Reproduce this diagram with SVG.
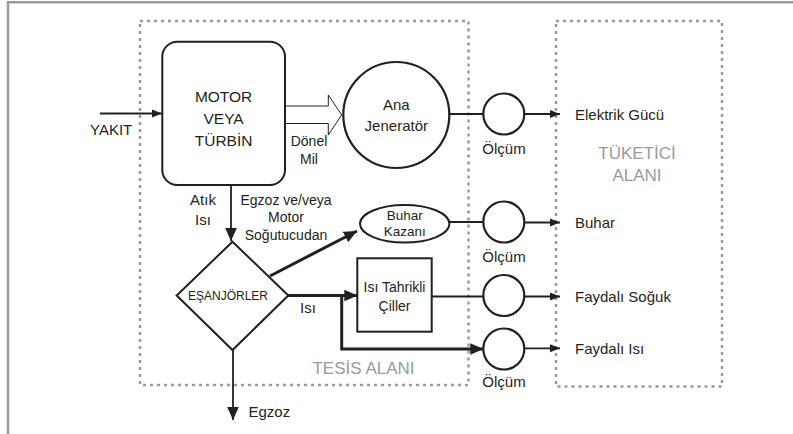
<svg xmlns="http://www.w3.org/2000/svg" width="793" height="434" viewBox="0 0 793 434">
<style>
  text { font-family: "Liberation Sans", Arial, sans-serif; fill: #231f20; }
  .t15 { font-size: 15px; }
  .t14 { font-size: 14px; }
  .t13 { font-size: 13.5px; }
  .gray { font-size: 17px; fill: #9a9a9a; }
  .shape { fill: #fff; stroke: #231f20; stroke-width: 2; }
  .circ { fill: #fff; stroke: #231f20; stroke-width: 2.2; }
  .area { fill: none; stroke: #9a9a9a; stroke-width: 2.5; stroke-dasharray: 3 4; }
  .ln { fill: none; stroke: #231f20; stroke-width: 1.8; }
  .lnt { fill: none; stroke: #231f20; stroke-width: 3; }
</style>
<defs>
  <marker id="ah" viewBox="0 0 10 10" refX="10" refY="5" markerWidth="10" markerHeight="10" markerUnits="userSpaceOnUse" orient="auto">
    <path d="M0,1 L10,5 L0,9 Z" fill="#231f20"/>
  </marker>
  <marker id="ahb" viewBox="0 0 10 10" refX="10" refY="5" markerWidth="13" markerHeight="13" markerUnits="userSpaceOnUse" orient="auto">
    <path d="M0,0.5 L10,5 L0,9.5 Z" fill="#231f20"/>
  </marker>
</defs>
<rect x="0" y="0" width="793" height="434" fill="#fff"/>
<path d="M8,434 V2.2 H793" fill="none" stroke="#9a9a9a" stroke-width="2.5"/>

<g id="plant-area">
  <rect class="area" x="140" y="21" width="328.5" height="364"/>
  <text class="gray" x="363.5" y="374" text-anchor="middle">TESİS ALANI</text>
</g>
<g id="consumer-area">
  <rect class="area" x="556" y="21" width="166" height="365.5"/>
  <text class="gray" x="637" y="159" text-anchor="middle">TÜKETİCİ</text>
  <text class="gray" x="637" y="181" text-anchor="middle">ALANI</text>
</g>

<g id="connectors">
  <line class="ln" x1="100" y1="113.5" x2="162" y2="113.5" marker-end="url(#ah)"/>
  <path d="M285,106 H328.3 V95 L341.7,115 L328.3,135 V123.5 H285" fill="#fff" stroke="#231f20" stroke-width="1"/>
  <line class="ln" x1="449" y1="114" x2="483.3" y2="114"/>
  <line class="ln" x1="524.3" y1="114" x2="560" y2="114" marker-end="url(#ah)"/>
  <line class="ln" x1="231" y1="185" x2="231" y2="241" marker-end="url(#ahb)"/>
  <line class="lnt" x1="270" y1="276" x2="357" y2="231" marker-end="url(#ahb)"/>
  <line class="ln" x1="449" y1="222" x2="483.3" y2="222"/>
  <line class="ln" x1="524.3" y1="222.5" x2="560" y2="222.5" marker-end="url(#ah)"/>
  <line class="lnt" x1="288" y1="295.5" x2="357.3" y2="295.5" marker-end="url(#ahb)"/>
  <polyline class="lnt" points="341.7,295.5 341.7,349 483.3,349" marker-end="url(#ahb)"/>
  <line class="ln" x1="431.7" y1="296.5" x2="483.3" y2="296.5"/>
  <line class="ln" x1="524.3" y1="296.5" x2="560" y2="296.5" marker-end="url(#ah)"/>
  <line class="ln" x1="524.3" y1="348.3" x2="560" y2="348.3" marker-end="url(#ah)"/>
  <line class="ln" x1="233" y1="350" x2="233" y2="420" marker-end="url(#ahb)"/>
  <text class="t15" x="90" y="135">YAKIT</text>
  <text class="t14" x="309" y="146" text-anchor="middle">Dönel</text>
  <text class="t14" x="309" y="164" text-anchor="middle">Mil</text>
  <text class="t15" x="203" y="205" text-anchor="middle">Atık</text>
  <text class="t15" x="203" y="225" text-anchor="middle">Isı</text>
  <text class="t14" x="286" y="205" text-anchor="middle">Egzoz ve/veya</text>
  <text class="t14" x="286" y="222" text-anchor="middle">Motor</text>
  <text class="t14" x="286" y="240" text-anchor="middle">Soğutucudan</text>
  <text class="t15" x="308" y="313" text-anchor="middle">Isı</text>
  <text class="t15" x="248.5" y="417">Egzoz</text>
</g>

<g id="motor">
  <rect class="shape" x="162.3" y="41.7" width="122.7" height="143.3" rx="15"/>
  <text class="t15" x="223.6" y="102" text-anchor="middle" style="font-size:15.5px">MOTOR</text>
  <text class="t15" x="223.6" y="124" text-anchor="middle" style="font-size:15.5px">VEYA</text>
  <text class="t15" x="223.6" y="146" text-anchor="middle" style="font-size:15.5px">TÜRBİN</text>
</g>
<g id="generator">
  <circle class="circ" cx="396.3" cy="115" r="53"/>
  <text class="t15" x="396.3" y="110" text-anchor="middle">Ana</text>
  <text class="t15" x="396.3" y="131" text-anchor="middle">Jeneratör</text>
</g>
<g id="heat-exchangers">
  <polygon class="shape" points="232.5,241.7 288.3,295.5 232.5,350 176.7,295.5"/>
  <text x="228" y="299.5" text-anchor="middle" style="font-size:12px">EŞANJÖRLER</text>
</g>
<g id="steam-boiler">
  <ellipse class="shape" cx="404.7" cy="223.8" rx="44.7" ry="18.8"/>
  <text class="t13" x="404.7" y="219.5" text-anchor="middle">Buhar</text>
  <text class="t13" x="404.7" y="235.5" text-anchor="middle">Kazanı</text>
</g>
<g id="chiller">
  <rect class="shape" x="357.3" y="258.3" width="74.4" height="73.4"/>
  <text class="t14" x="394.5" y="292" text-anchor="middle">Isı Tahrikli</text>
  <text class="t14" x="394.5" y="311" text-anchor="middle">Çiller</text>
</g>
<g id="meter1">
  <circle class="circ" cx="503.8" cy="114" r="20.5"/>
  <text class="t15" x="504" y="153.5" text-anchor="middle">Ölçüm</text>
</g>
<g id="meter2">
  <circle class="circ" cx="503.8" cy="222" r="20.5"/>
  <text class="t15" x="504" y="262" text-anchor="middle">Ölçüm</text>
</g>
<g id="meter3">
  <circle class="circ" cx="503.8" cy="295.5" r="20.5"/>
</g>
<g id="meter4">
  <circle class="circ" cx="503.8" cy="349" r="20.5"/>
  <text class="t15" x="504" y="387" text-anchor="middle">Ölçüm</text>
</g>
<g id="outputs">
  <text class="t15" x="575" y="120">Elektrik Gücü</text>
  <text class="t15" x="575" y="228">Buhar</text>
  <text class="t15" x="575" y="302">Faydalı Soğuk</text>
  <text class="t15" x="575" y="354">Faydalı Isı</text>
</g>
</svg>
